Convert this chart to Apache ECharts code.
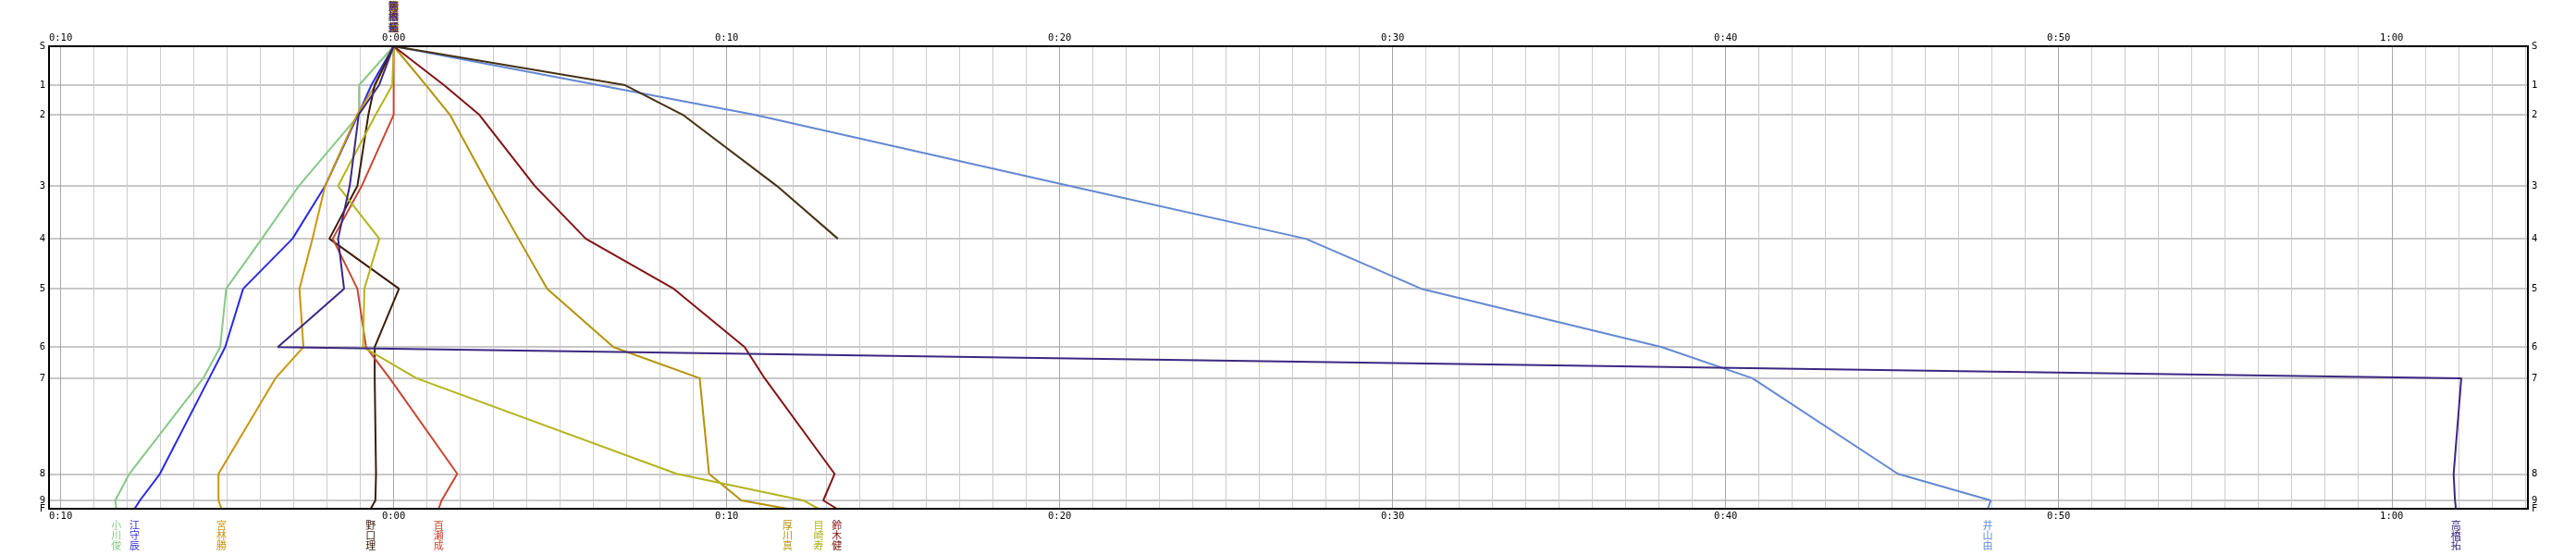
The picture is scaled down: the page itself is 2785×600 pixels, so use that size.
<!DOCTYPE html>
<html>
<head>
<meta charset="utf-8">
<script src="https://cdn.jsdelivr.net/npm/echarts@6/dist/echarts.min.js"></script>
<style>
html,body{margin:0;padding:0;background:#fff;}
#chart{width:2785px;height:600px;}
</style>
</head>
<body>
<div id="chart"></div>
<script>
// Controls (y axis) and their positions along the course (reference scale)
const controls = ['S','1','2','3','4','5','6','7','8','9','F'];
const controlPos = [0, 42, 74, 151, 208, 262, 325, 358.7, 462, 490.7, 499.7];

// X axis tick labels (minutes relative to reference)
const xLabelValues = [-10, 0, 10, 20, 30, 40, 50, 60];
const xMinorValues = [];
for (let m = -10; m <= 64; m++) xMinorValues.push(m);

// Runner names
const names = ['小川俊','江守辰','宮林勝','野口理','百瀬成','厚川真','目崎寿','鈴木健','井山由','高橋拓',''];
const colors = ['#88c888','#2a2ae0','#c8960f','#3c1e0a','#c84632','#b4920a','#b4b41e','#821414','#6488d2','#3c2882','#463214'];

// Time difference (minutes) at S,1..9,F
const ogawa     = [0, -1.04, -1.04, -2.85, -3.96, -5.03, -5.21, -5.72, -7.94, -8.36, -8.33];
const emori     = [0, -0.67, -1.07, -2.06, -3.04, -4.52, -5.06, -5.54, -7.02, -7.62, -7.78];
const miyabayashi = [0, -0.55, -1.10, -2.06, -2.44, -2.83, -2.71, -3.55, -5.26, -5.26, -5.17];
const noguchi   = [0, -0.57, -0.76, -1.09, -1.93, 0.16, -0.57, -0.57, -0.53, -0.55, -0.69];
const momose    = [0, 0, 0, -0.96, -1.83, -1.09, -0.83, -0.12, 1.91, 1.44, 1.35];
const atsukawa  = [0, 0.97, 1.69, 2.85, 3.75, 4.61, 6.60, 9.19, 9.47, 10.44, 11.83];
const mezaki    = [0, -0.04, -0.54, -1.67, -0.43, -0.88, -0.92, 0.68, 8.50, 12.30, 12.76];
const suzuki    = [0, 1.51, 2.57, 4.24, 5.77, 8.41, 10.54, 11.14, 13.24, 12.90, 13.31];
const iyama     = [0, 6.15, 10.83, 20.3, 27.39, 30.86, 38.08, 40.80, 45.17, 47.96, 47.87];
const takahashi = [0, -0.44, -1.05, -1.32, -1.67, -1.49, -3.48, 62.09, 61.86, 61.90, 61.93];
const dnf       = [0, 6.95, 8.68, 11.51, 13.34];

const runners = [ogawa, emori, miyabayashi, noguchi, momose, atsukawa, mezaki, suzuki, iyama, takahashi, dnf];

const LABEL_FONT = '"Noto Sans CJK JP", sans-serif';
const AXIS_FONT = '"DejaVu Sans Mono", monospace';

function fmtTime(v) {
  const a = Math.round(Math.abs(v));
  const h = Math.floor(a / 60), m = a % 60;
  return h + ':' + (m < 10 ? '0' : '') + m;
}
function vertical(s) { return s.split('').join('\n'); }
function ctrlLabel(v) {
  let best = -1, bd = 1e9;
  controlPos.forEach(function (p, i) { const d = Math.abs(p - v); if (d < bd) { bd = d; best = i; } });
  return bd < 0.01 ? controls[best] : '';
}

const series = runners.map(function (vals, ri) {
  const data = vals.map(function (x, i) {
    const item = { value: [x, controlPos[i]] };
    if (i === 0 && names[ri]) {
      item.label = {
        show: true, position: 'top', distance: 14,
        formatter: vertical(names[ri]), color: colors[ri],
        fontFamily: LABEL_FONT, fontSize: 11, lineHeight: 11.5
      };
    } else if (i === controls.length - 1 && names[ri]) {
      item.label = {
        show: true, position: 'bottom', distance: 12,
        formatter: vertical(names[ri]), color: colors[ri],
        fontFamily: LABEL_FONT, fontSize: 11, lineHeight: 11
      };
    }
    return item;
  });
  return {
    type: 'line',
    name: names[ri] || 'dnf',
    data: data,
    showSymbol: true,
    symbol: 'circle',
    symbolSize: 1,
    itemStyle: { color: 'rgba(0,0,0,0)', borderWidth: 0 },
    lineStyle: { color: colors[ri], width: 2 },
    label: { show: false },
    labelLayout: { hideOverlap: false },
    emphasis: { disabled: true },
    z: 3
  };
});

const chart = echarts.init(document.getElementById('chart'), null, { renderer: 'canvas' });
const xMin = -10.35, xMax = 64.09;
const yMax = controlPos[controlPos.length - 1];

const splitColors = xMinorValues.map(function (v) { return (v % 10 === 0) ? '#a8a8a8' : '#cccccc'; });

// label values: all controls except F on main axes, F alone on its own axes
const yMainLabels = controlPos.slice(0, controlPos.length - 1);
const yFinishLabel = [yMax];

function yLabel(values) {
  return {
    customValues: values, formatter: ctrlLabel, hideOverlap: false,
    showMinLabel: true, showMaxLabel: true,
    margin: 4, color: '#000', fontFamily: AXIS_FONT, fontSize: 10.5
  };
}
function yAx(pos, values, split) {
  return {
    type: 'value', position: pos, inverse: true, min: 0, max: yMax,
    axisLine: { show: false },
    axisTick: { show: false, customValues: controlPos },
    splitLine: { show: split, lineStyle: { color: '#c8c8c8', width: 2 } },
    axisLabel: yLabel(values)
  };
}

chart.setOption({
  animation: false,
  backgroundColor: '#ffffff',
  grid: { left: 53, right: 52, top: 50, bottom: 50, show: true, borderColor: '#000', borderWidth: 2, backgroundColor: 'transparent', z: 4 },
  xAxis: [
    {
      type: 'value', position: 'bottom', min: xMin, max: xMax,
      axisLine: { show: false }, axisTick: { show: false, customValues: xMinorValues },
      splitLine: { show: true, lineStyle: { color: splitColors, width: 1 } },
      axisLabel: { customValues: xLabelValues, formatter: fmtTime, hideOverlap: false, margin: 3, color: '#000', fontFamily: AXIS_FONT, fontSize: 10.5 }
    },
    {
      type: 'value', position: 'top', min: xMin, max: xMax,
      axisLine: { show: false }, axisTick: { show: false }, splitLine: { show: false },
      axisLabel: { customValues: xLabelValues, formatter: fmtTime, hideOverlap: false, margin: 3, color: '#000', fontFamily: AXIS_FONT, fontSize: 10.5 }
    }
  ],
  yAxis: [
    yAx('left', yMainLabels, true),
    yAx('right', yMainLabels, false),
    yAx('left', yFinishLabel, false),
    yAx('right', yFinishLabel, false)
  ],
  series: series
});
</script>
</body>
</html>
